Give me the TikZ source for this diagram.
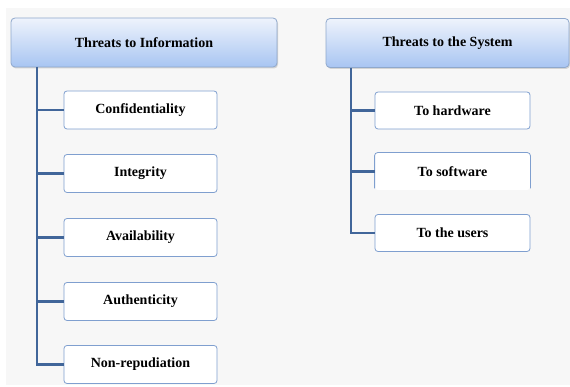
\documentclass[tikz,border=0pt]{standalone}
\usepackage{fontspec}
\setmainfont{Liberation Serif}
\usetikzlibrary{shadows}
\definecolor{panel}{HTML}{F7F7F7}
\definecolor{trunk}{HTML}{41669A}
\definecolor{boxline}{HTML}{7F9FCF}
\definecolor{headtop}{HTML}{EEF3FC}
\definecolor{headbot}{HTML}{A8C5F2}
\definecolor{headline}{HTML}{8FA8CC}
\begin{document}
\begin{tikzpicture}[x=1pt,y=-1pt,
  header/.style={rounded corners=4pt, draw=headline, line width=0.8pt,
    top color=headtop, bottom color=headbot, minimum height=49pt,
    font=\bfseries\fontsize{14}{16}\selectfont,
    drop shadow={shadow xshift=1pt, shadow yshift=-1.5pt, fill=black!30}},
  item/.style={rounded corners=3pt, fill=white, line width=0.8pt,
    minimum height=38pt, font=\bfseries\fontsize{14}{16}\selectfont},
  framed/.style={draw=boxline},
  branch/.style={draw=trunk, line width=2.5pt}]
\useasboundingbox (0,0) rectangle (570,387);
\fill[white] (0,0) rectangle (570,387);
\fill[panel] (6,8) rectangle (570,385);

% Information threats
\node[header, minimum width=266pt] (hi) at (144,42.5) {Threats to Information};
\node[item, framed, minimum width=153pt] (i1) at (140.5,110)   {Confidentiality};
\node[item, framed, minimum width=153pt] (i2) at (140.5,173.5) {Integrity};
\node[item, framed, minimum width=153pt] (i3) at (140.5,237.5) {Availability};
\node[item, framed, minimum width=153pt] (i4) at (140.5,301.5) {Authenticity};
\node[item, framed, minimum width=153pt] (i5) at (140.5,364.5) {Non-repudiation};

\coordinate (ti) at (37,67);
\draw[branch] (ti) |- (i5.west);
\foreach \n in {i1,i2,i3,i4}
  \draw[branch] (ti |- \n.west) -- (\n.west);

% System threats
\node[header, minimum width=243pt] (hs) at (447.5,43) {Threats to the System};
\node[item, framed, minimum width=155pt, minimum height=37pt] (s1) at (452.5,110.5) {To hardware};
\node[item, minimum width=155pt, minimum height=37pt] (s2) at (452.5,171.5) {To software};
\draw[boxline, line width=0.8pt, rounded corners=3pt]
  ([yshift=2pt]s2.south west) -- (s2.north west) -- (s2.north east) -- ([yshift=2pt]s2.south east);
\node[item, framed, minimum width=155pt, minimum height=37pt] (s3) at (452.5,233) {To the users};

\coordinate (ts) at (351,68);
\draw[branch] (ts) |- (s3.west);
\foreach \n in {s1,s2}
  \draw[branch] (ts |- \n.west) -- (\n.west);
\end{tikzpicture}
\end{document}
